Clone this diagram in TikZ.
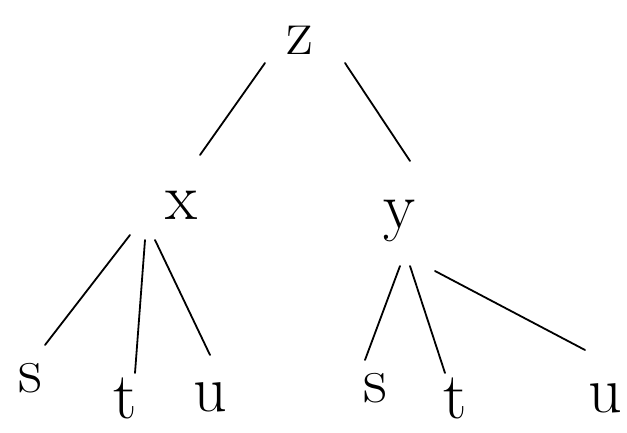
\documentclass[tikz,border=0pt]{standalone}
\usetikzlibrary{calc}
\begin{document}
\begin{tikzpicture}[x=1pt,y=1pt,
  lbl/.style={inner sep=0pt,font=\fontsize{66}{66}\selectfont},
  edge/.style={line width=1.8pt,line cap=round}]
\useasboundingbox[fill=white] (0,0) rectangle (627,433);
\node[lbl] (z) at (300,393) {z};
\node[lbl] (x) at (182,228) {x};
\node[lbl] (y) at (400,212) {y};
\node[lbl] (s1) at (30,55) {s};
\node[lbl] (t1) at (125,35) {t};
\node[lbl] (u1) at (210,36) {u};
\node[lbl] (s2) at (375,45) {s};
\node[lbl] (t2) at (455,35) {t};
\node[lbl] (u2) at (605,35) {u};
\draw[edge] ($(z)+(-35,-23)$) -- ($(x)+(18,50)$);
\draw[edge] ($(z)+(45,-23)$) -- ($(y)+(10,60)$);
\draw[edge] ($(x)+(-52,-30)$) -- ($(s1)+(15,33)$);
\draw[edge] ($(x)+(-37,-35)$) -- ($(t1)+(10,25)$);
\draw[edge] ($(x)+(-27,-35)$) -- ($(u1)+(0,42)$);
\draw[edge] ($(y)+(0,-45)$) -- ($(s2)+(-10,28)$);
\draw[edge] ($(y)+(10,-45)$) -- ($(t2)+(-10,25)$);
\draw[edge] ($(y)+(35,-50)$) -- ($(u2)+(-20,48)$);
\end{tikzpicture}
\end{document}
